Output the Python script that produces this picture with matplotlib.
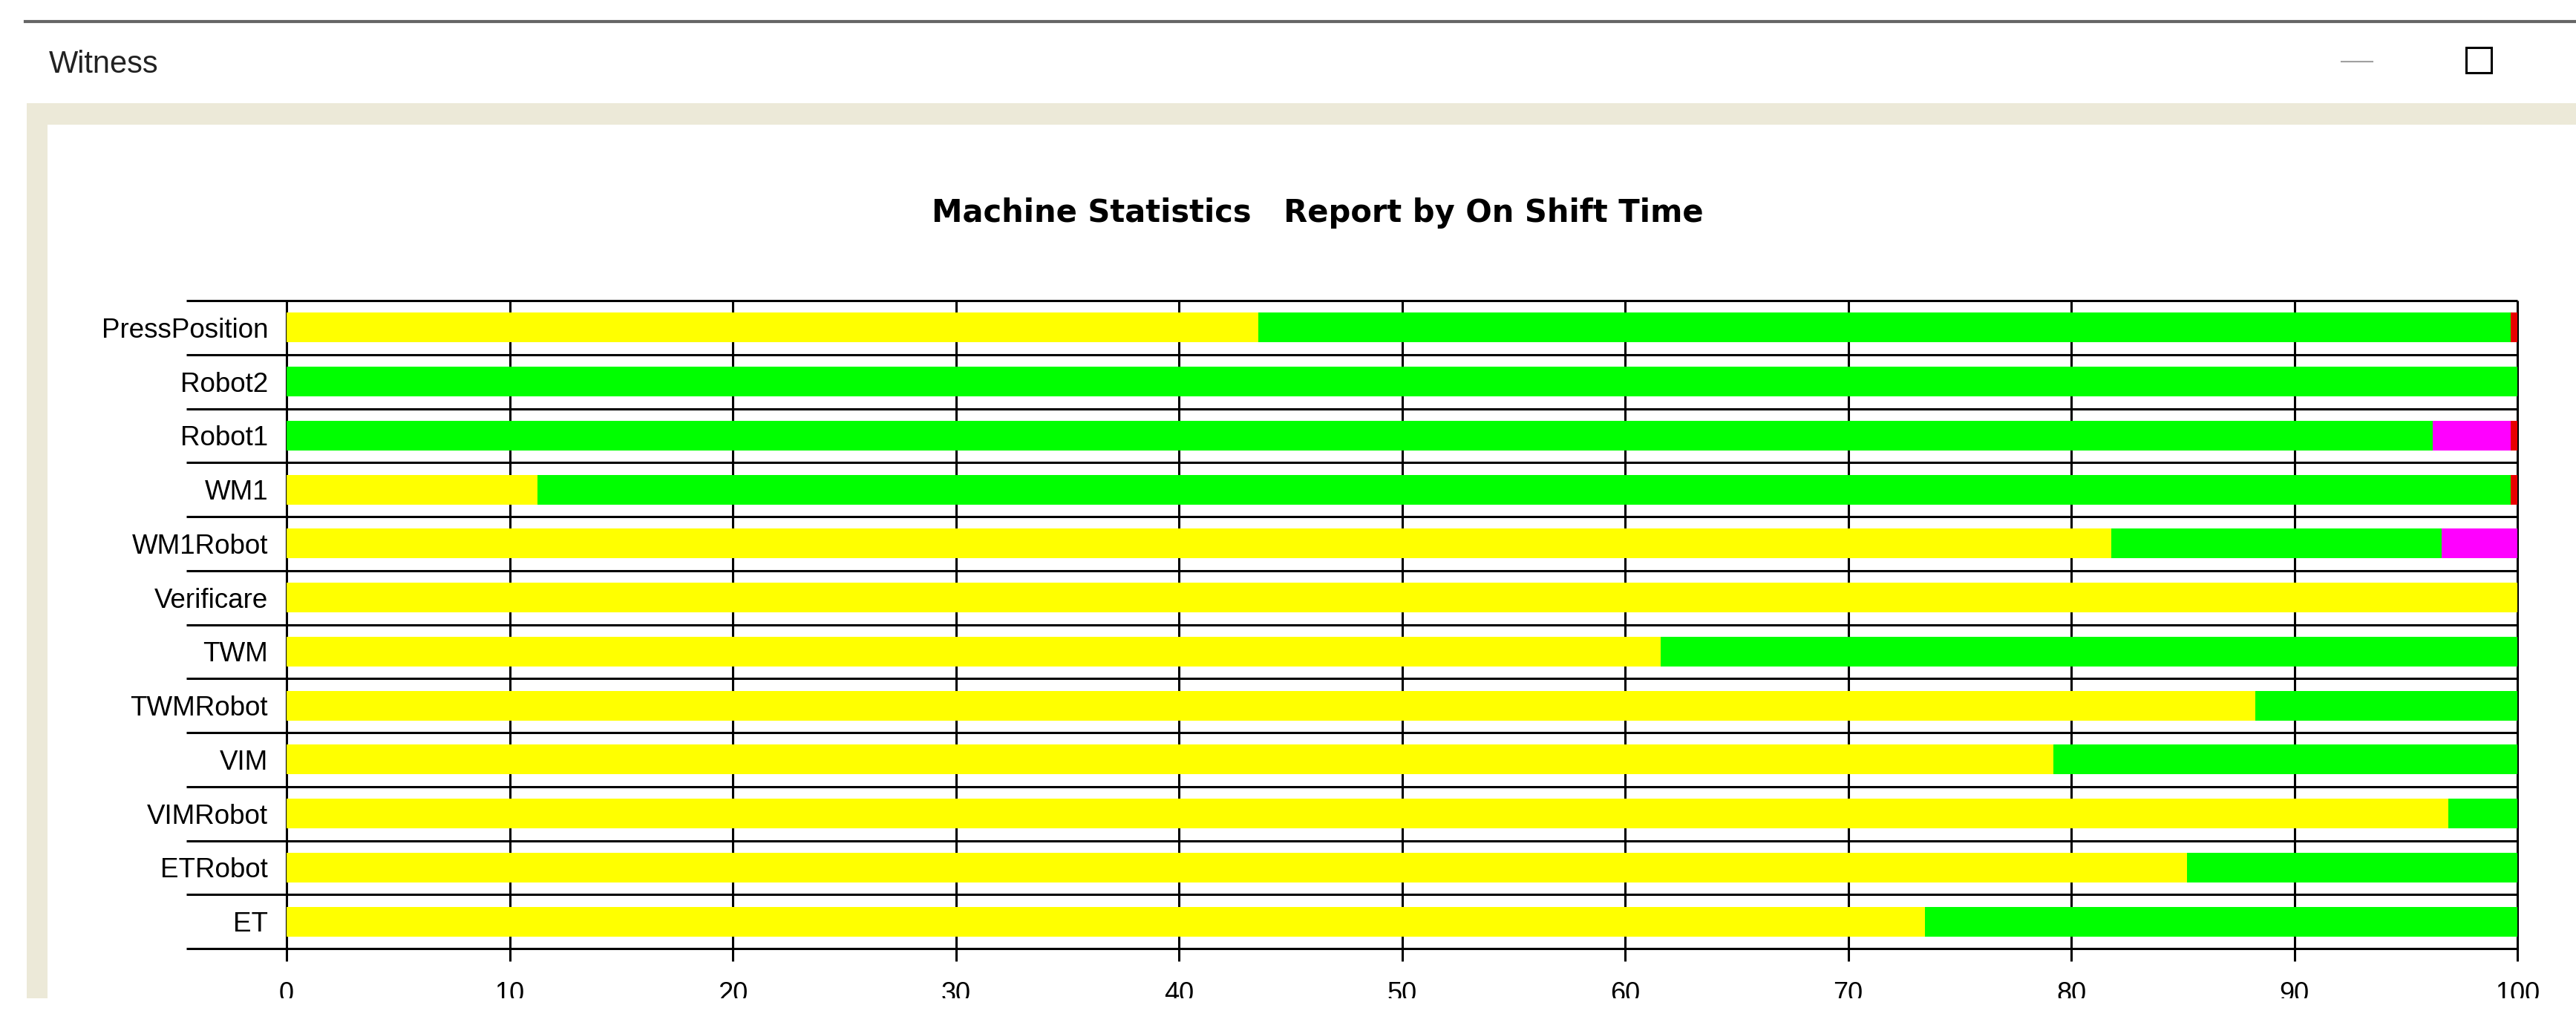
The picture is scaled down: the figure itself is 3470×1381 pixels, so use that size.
import numpy as np
import matplotlib
matplotlib.use("Agg")
import matplotlib.pyplot as plt
from matplotlib.patches import Rectangle
from matplotlib.lines import Line2D

# Machine statistics, % of on shift time
categories = ["PressPosition", "Robot2", "Robot1", "WM1", "WM1Robot", "Verificare",
              "TWM", "TWMRobot", "VIM", "VIMRobot", "ETRobot", "ET"]
busy = [43.55, 0, 0, 11.26, 81.8, 100, 61.6, 88.25, 79.2, 96.9, 85.2, 73.45]
idle = [56.15, 100, 96.2, 88.44, 14.8, 0, 38.4, 11.75, 20.8, 3.1, 14.8, 26.55]
blocked = [0, 0, 3.5, 0, 3.4, 0, 0, 0, 0, 0, 0, 0]
broken = [0.3, 0, 0.3, 0.3, 0, 0, 0, 0, 0, 0, 0, 0]
x_ticks = list(range(0, 101, 10))

W, H = 3470, 1381
def fx(x):
    return x / W
def fy(y):
    return 1 - y / H

fig = plt.figure(figsize=(W / 100, H / 100), dpi=100)
fig.patch.set_facecolor("white")

# window chrome
fig.add_artist(Line2D([fx(34), 1], [fy(29), fy(29)], color="#666666", lw=3))
fig.text(fx(66), fy(98), "Witness", fontsize=30, family="Liberation Sans",
         color="#222222", va="baseline", ha="left")
fig.add_artist(Line2D([fx(3154), fx(3196)], [fy(83), fy(83)], color="#a0a0a0", lw=1.5))
fig.add_artist(Rectangle((fx(3322), fy(98)), fx(3356) - fx(3322), fy(64) - fy(98),
                         transform=fig.transFigure, fill=False, ec="black", lw=2.2))
beige = "#ECE9D8"
fig.add_artist(Rectangle((fx(36), fy(168)), 1 - fx(36), fy(139) - fy(168),
                         transform=fig.transFigure, color=beige, lw=0))
fig.add_artist(Rectangle((fx(36), fy(1345)), fx(64) - fx(36), fy(139) - fy(1345),
                         transform=fig.transFigure, color=beige, lw=0))

fig.text(fx(1775), fy(299), "Machine Statistics   Report by On Shift Time",
         fontsize=30, fontweight="bold", family="DejaVu Sans", ha="center", va="baseline")

ax = fig.add_axes([fx(386), fy(1278), fx(3391) - fx(386), fy(405) - fy(1278)])
n = len(categories)
ypos = np.arange(n) + 0.5
left = np.zeros(n)
for vals, col in [(busy, "#FFFF00"), (idle, "#00FF00"), (blocked, "#FF00FF"), (broken, "#E80000")]:
    ax.barh(ypos, vals, left=left, height=0.55, color=col, lw=0, zorder=3)
    left = left + np.array(vals)

ax.set_xlim(0, 100)
ax.set_ylim(n, 0)
for s in ax.spines.values():
    s.set_visible(False)

ax.vlines(x_ticks, 0, n + 0.23, color="black", lw=2.2, zorder=1, clip_on=False)
ax.hlines(np.arange(n + 1), -4.5, 100, color="black", lw=2.2, zorder=1, clip_on=False)

ax.set_yticks(ypos)
ax.set_yticklabels(categories, family="Liberation Sans", fontsize=26.5)
ax.set_xticks(x_ticks)
ax.set_xticklabels([str(t) for t in x_ticks], family="Liberation Sans", fontsize=26)
ax.tick_params(axis="y", length=0, pad=18)
ax.tick_params(axis="x", length=0, pad=32)

# screenshot is cut off under the tick labels
fig.add_artist(Rectangle((0, 0), 1, fy(1345), transform=fig.transFigure,
                         color="white", lw=0, zorder=10))

fig.savefig("out.png", dpi=100)
